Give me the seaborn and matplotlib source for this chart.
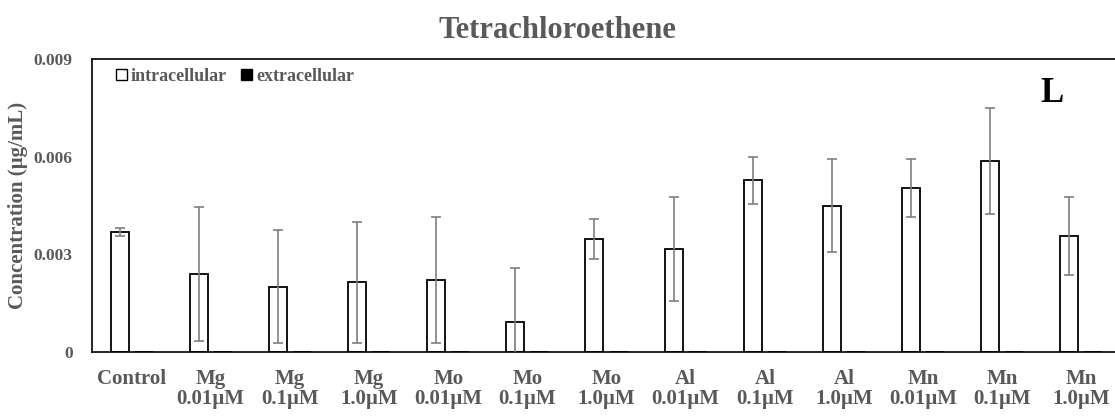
import matplotlib
matplotlib.use("Agg")
import matplotlib.pyplot as plt
import seaborn as sns
import pandas as pd
import numpy as np
from matplotlib.patches import Patch

categories = ["Control", "Mg\n0.01µM", "Mg\n0.1µM", "Mg\n1.0µM", "Mo\n0.01µM", "Mo\n0.1µM",
              "Mo\n1.0µM", "Al\n0.01µM", "Al\n0.1µM", "Al\n1.0µM", "Mn\n0.01µM", "Mn\n0.1µM", "Mn\n1.0µM"]
intracellular = [0.00369, 0.00239, 0.00201, 0.00214, 0.00221, 0.00093, 0.00346,
                 0.00317, 0.00527, 0.00450, 0.00503, 0.00587, 0.00356]
intracellular_err = [0.00012, 0.00206, 0.00173, 0.00186, 0.00193, 0.00164, 0.00061,
                     0.00159, 0.00073, 0.00142, 0.00089, 0.00163, 0.00121]
extracellular = [0.0] * 13
extracellular_err = [0.0] * 13
series = ["intracellular", "extracellular"]

df = pd.DataFrame({
    "category": categories * 2,
    "value": intracellular + extracellular,
    "err": intracellular_err + extracellular_err,
    "series": [series[0]] * 13 + [series[1]] * 13,
})

sns.set_theme(style="white")
plt.rcParams["font.family"] = ["Liberation Serif", "DejaVu Serif"]
plt.rcParams["font.weight"] = "bold"

gray = "#595959"
fig = plt.figure(figsize=(11.15, 4.16), dpi=100)
ax = fig.add_axes([92 / 1115, 64 / 416, 1029 / 1115, 293 / 416])

sns.barplot(data=df, x="category", y="value", hue="series", order=categories,
            hue_order=series, palette={"intracellular": "white", "extracellular": "black"},
            width=0.608, gap=0.25, errorbar=None, edgecolor="black", linewidth=1.3,
            legend=False, ax=ax)

# error bars on intracellular bars
intra_patches = ax.patches[:13]
xs = [p.get_x() + p.get_width() / 2 for p in intra_patches]
ax.errorbar(xs, intracellular, yerr=intracellular_err, fmt="none", ecolor="#7f7f7f",
            elinewidth=1.2, capsize=3.5, capthick=1.2, zorder=3)

ax.set_ylim(0, 0.009)
ax.set_yticks([0, 0.003, 0.006, 0.009])
ax.set_yticklabels(["0", "0.003", "0.006", "0.009"])
ax.set_xlim(-0.5, 12.5)
ax.tick_params(axis="y", length=0, pad=14, labelsize=12.5, labelcolor=gray)
ax.tick_params(axis="x", length=0, pad=12, labelsize=15, labelcolor=gray)
for lab in ax.get_xticklabels() + ax.get_yticklabels():
    lab.set_fontweight("bold")
for lab in ax.get_xticklabels():
    lab.set_linespacing(1.05)

for s in ax.spines.values():
    s.set_visible(True)
    s.set_color("black")
    s.set_linewidth(1.2)

ax.set_xlabel("")
ax.set_ylabel("Concentration (µg/mL)", fontsize=15, fontweight="bold", color=gray, labelpad=4)
fig.text(557 / 1115, 1 - 31 / 416, "Tetrachloroethene", ha="center", va="center",
         fontsize=22, fontweight="bold", color=gray)
ax.text(1052 / 1115, 1 - 93 / 416, "L", transform=fig.transFigure, ha="center", va="center",
        fontsize=25, fontweight="bold", color="black")

handles = [Patch(facecolor="white", edgecolor="black", linewidth=1.0),
           Patch(facecolor="black", edgecolor="black", linewidth=1.0)]
leg = ax.legend(handles, series, loc="upper left", bbox_to_anchor=(0.008, 1.025), ncol=2,
                frameon=False, handlelength=0.6, handleheight=0.6, handletextpad=0.2,
                columnspacing=0.8, prop={"family": "Liberation Serif", "weight": "bold", "size": 13})
for t in leg.get_texts():
    t.set_color(gray)

fig.savefig("out.png", dpi=100)
